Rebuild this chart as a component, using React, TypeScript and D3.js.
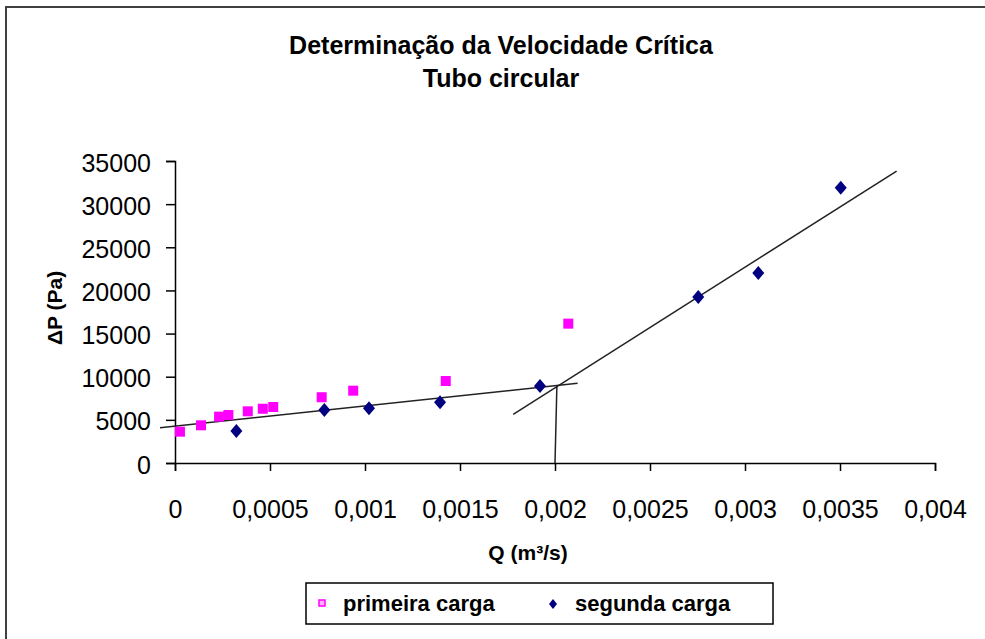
import { useEffect, useRef } from 'react';
import * as d3 from 'd3';

// primeira carga (magenta squares): Q in m³/s, ΔP in Pa
const primeiraQ = [0.000026, 0.000137, 0.000232, 0.000281, 0.000383, 0.000462, 0.000517, 0.000772, 0.000938, 0.001425, 0.00207];
const primeiraDP = [3630, 4370, 5370, 5560, 5990, 6290, 6490, 7620, 8380, 9500, 16150];

// segunda carga (navy diamonds)
const segundaQ = [0.000323, 0.000786, 0.001021, 0.001395, 0.001921, 0.002754, 0.00307, 0.003504];
const segundaDP = [3710, 6140, 6340, 7030, 8920, 19240, 22020, 31910];

// hand drawn lines: laminar fit, turbulent fit, critical flow marker
const laminarLine = [[-0.000079, 4090], [0.002119, 9240]];
const turbulentLine = [[0.00178, 5640], [0.003798, 33840]];
const criticalLine = [[0.00201, 8980], [0.002, 0]];

const xTicks = [0, 0.0005, 0.001, 0.0015, 0.002, 0.0025, 0.003, 0.0035, 0.004];
const yTicks = [0, 5000, 10000, 15000, 20000, 25000, 30000, 35000];

const titleLines = ['Determinação da Velocidade Crítica', 'Tubo circular'];
const legendLabels = ['primeira carga', 'segunda carga'];

const FONT = '"Liberation Sans", Arial, sans-serif';

const App = () => {
  const svgRef = useRef(null);

  useEffect(() => {
    const svg = d3.select(svgRef.current);
    svg.selectAll('*').remove();

    const x = d3.scaleLinear().domain([0, 0.004]).range([175, 935]);
    const y = d3.scaleLinear().domain([0, 35000]).range([463, 161]);

    // outer chart border (cut off at right and bottom)
    svg.append('rect')
      .attr('x', 6).attr('y', 7)
      .attr('width', 1000).attr('height', 700)
      .attr('fill', 'white')
      .attr('stroke', '#404040')
      .attr('stroke-width', 2);

    // title
    svg.append('g').selectAll('text')
      .data(titleLines)
      .enter().append('text')
      .attr('x', 501)
      .attr('y', (d, i) => 54 + i * 33)
      .attr('text-anchor', 'middle')
      .attr('font-family', FONT)
      .attr('font-weight', 'bold')
      .attr('font-size', 25)
      .text(d => d);

    // axes
    const yAxis = svg.append('g')
      .attr('transform', 'translate(175,0)')
      .call(d3.axisLeft(y).tickValues(yTicks).tickSize(9).tickPadding(15).tickFormat(d => String(d)));
    yAxis.selectAll('text')
      .attr('font-family', FONT).attr('font-size', 25).attr('fill', '#000').attr('dy', '0.4em');

    const xAxis = svg.append('g')
      .attr('transform', 'translate(0,463)')
      .call(d3.axisBottom(x).tickValues(xTicks).tickSize(8).tickPadding(29)
        .tickFormat(d => String(d).replace('.', ',')));
    xAxis.selectAll('text')
      .attr('font-family', FONT).attr('font-size', 25).attr('fill', '#000');

    svg.selectAll('.domain').attr('stroke', '#000').attr('stroke-width', 1.5);
    svg.selectAll('.tick line').attr('stroke', '#000').attr('stroke-width', 1.5);

    // axis titles
    svg.append('text')
      .attr('transform', 'translate(62,308) rotate(-90)')
      .attr('text-anchor', 'middle')
      .attr('font-family', FONT).attr('font-weight', 'bold').attr('font-size', 21)
      .text('ΔP (Pa)');

    svg.append('text')
      .attr('x', 528).attr('y', 560)
      .attr('text-anchor', 'middle')
      .attr('font-family', FONT).attr('font-weight', 'bold').attr('font-size', 21)
      .text('Q (m³/s)');

    // fitted lines
    const line = d3.line().x(d => x(d[0])).y(d => y(d[1]));
    [laminarLine, turbulentLine, criticalLine].forEach(l => {
      svg.append('path')
        .attr('d', line(l))
        .attr('fill', 'none')
        .attr('stroke', '#222')
        .attr('stroke-width', 1.5);
    });

    // primeira carga
    svg.append('g').selectAll('rect')
      .data(primeiraQ)
      .enter().append('rect')
      .attr('x', d => x(d) - 5)
      .attr('y', (d, i) => y(primeiraDP[i]) - 5)
      .attr('width', 10).attr('height', 10)
      .attr('fill', '#ff00ff');

    // segunda carga
    const diamond = (cx, cy, r) => `M${cx},${cy - r - 1}L${cx + r},${cy}L${cx},${cy + r + 1}L${cx - r},${cy}Z`;
    svg.append('g').selectAll('path')
      .data(segundaQ)
      .enter().append('path')
      .attr('d', (d, i) => diamond(x(d), y(segundaDP[i]), 6))
      .attr('fill', '#000080');

    // legend
    svg.append('rect')
      .attr('x', 306).attr('y', 583)
      .attr('width', 467).attr('height', 41)
      .attr('fill', 'white').attr('stroke', '#000').attr('stroke-width', 1.5);
    svg.append('rect')
      .attr('x', 319).attr('y', 600).attr('width', 6).attr('height', 6)
      .attr('fill', '#ffb0ff').attr('stroke', '#ff00ff').attr('stroke-width', 1.5);
    svg.append('path')
      .attr('d', diamond(553, 604, 4))
      .attr('fill', '#000080');
    svg.append('g').selectAll('text')
      .data(legendLabels)
      .enter().append('text')
      .attr('x', (d, i) => (i === 0 ? 343 : 575))
      .attr('y', 611)
      .attr('font-family', FONT).attr('font-weight', 'bold').attr('font-size', 22)
      .text(d => d);
  }, []);

  return (
    <svg ref={svgRef} width={985} height={639}
      style={{ position: 'absolute', left: 0, top: 0, background: 'white' }} />
  );
};

export default App;
